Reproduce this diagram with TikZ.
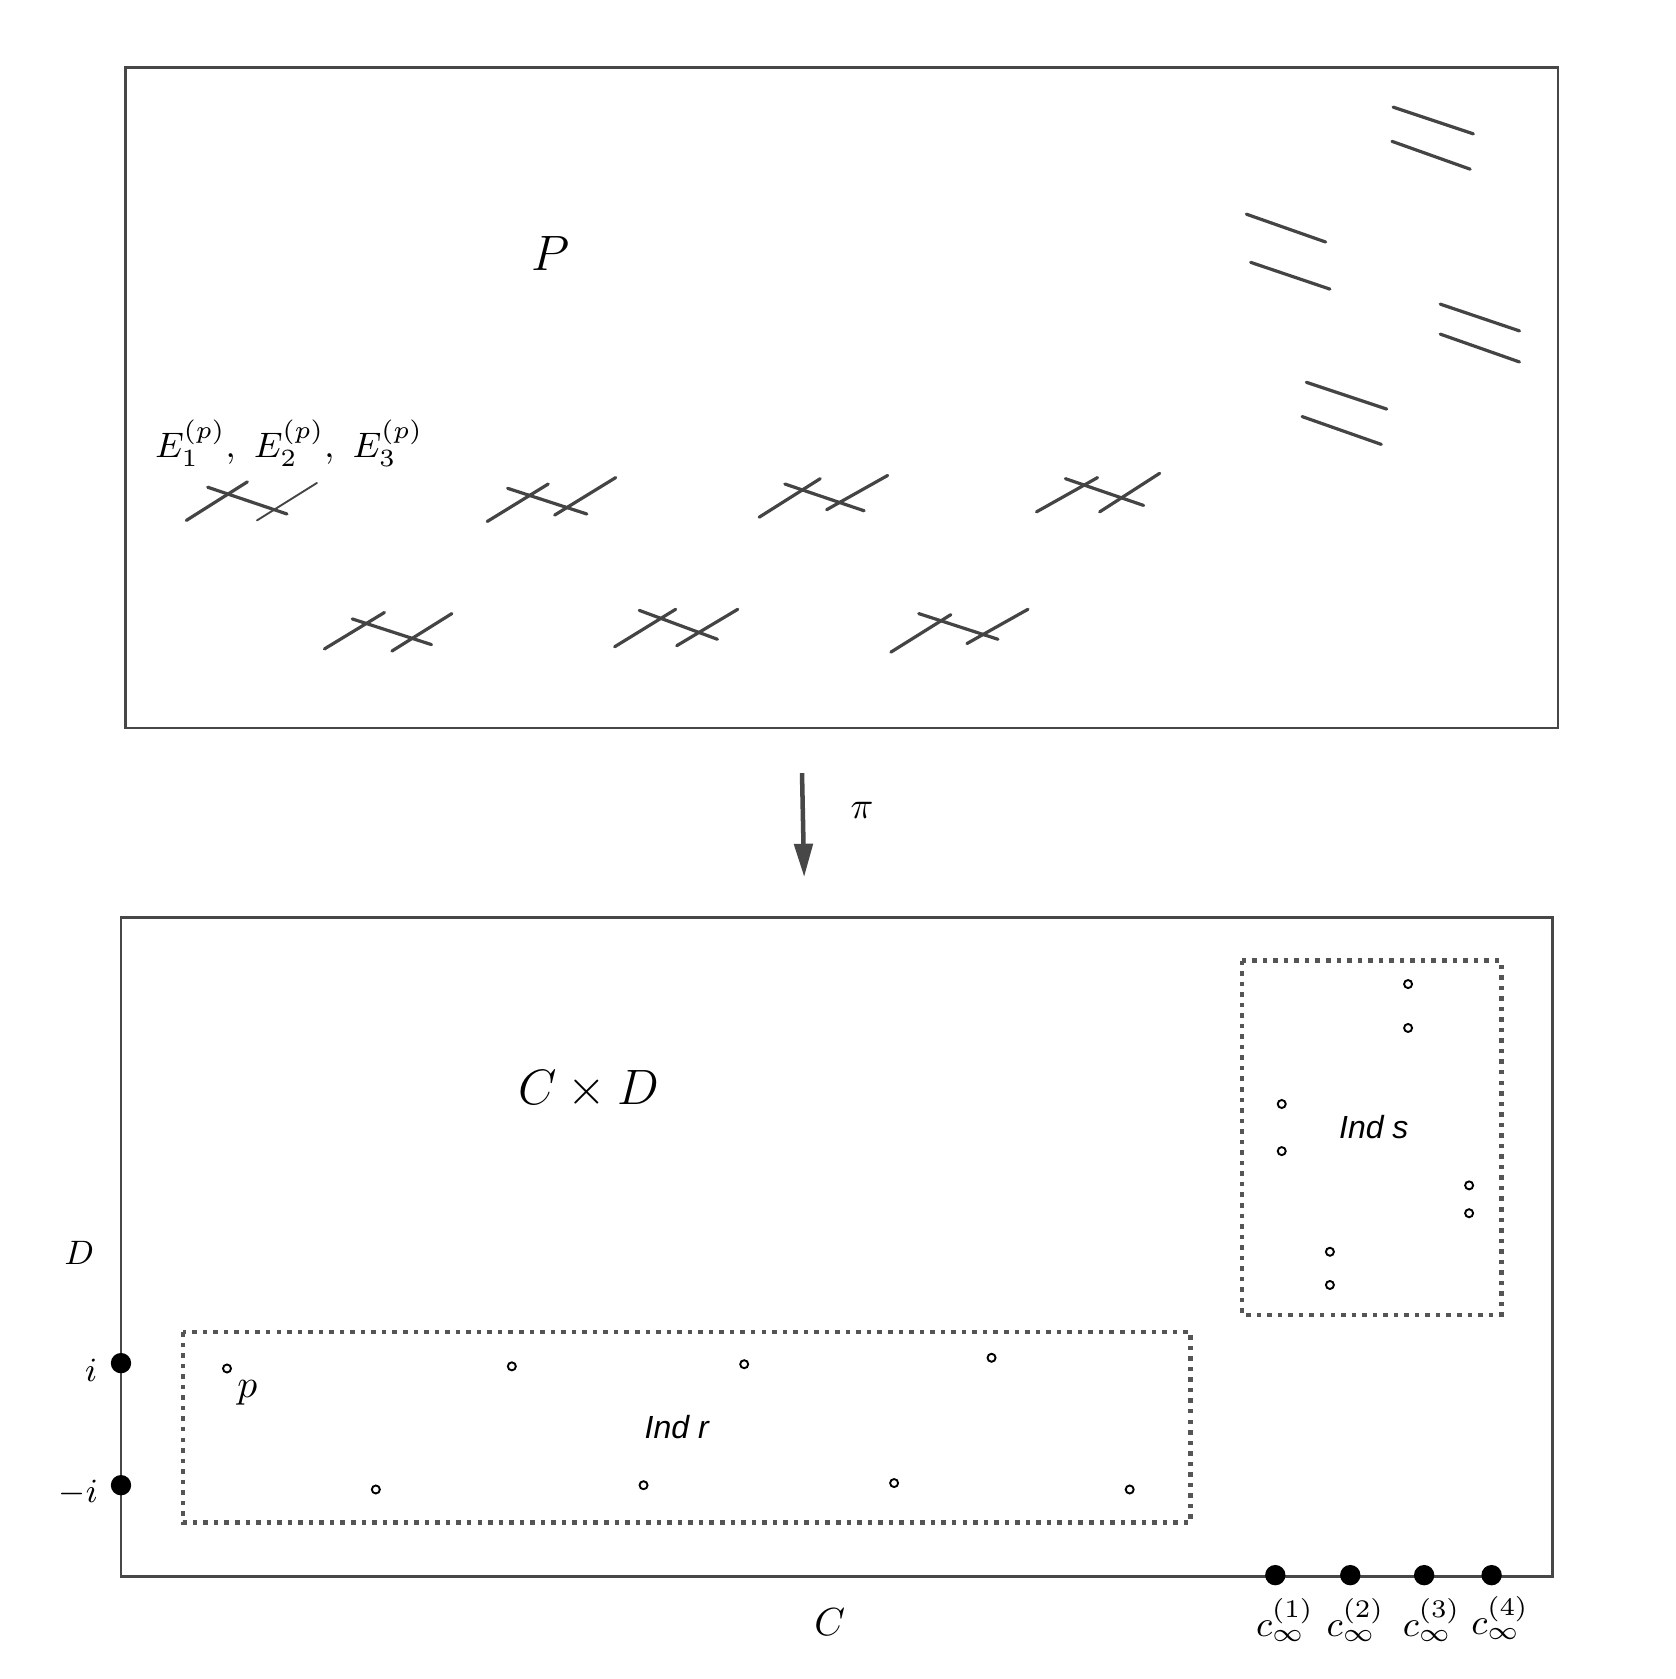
\RequirePackage{fix-cm}
\documentclass[tikz,border=0pt]{standalone}
\usepackage{fontspec}
\usepackage{amsmath}
\usetikzlibrary{arrows.meta}
\newfontfamily\indfont{Liberation Sans}
\definecolor{framegray}{HTML}{474747}
\definecolor{curvegray}{HTML}{444444}
\definecolor{dotgray}{HTML}{555555}
\tikzset{
  frame/.style={draw=framegray, line width=0.7pt},
  curve/.style={draw=curvegray, line width=0.85pt, line cap=round},
  thincurve/.style={draw=curvegray, line width=0.5pt, line cap=round},
  indbox/.style={draw=dotgray, line width=1.2pt, dash pattern=on 1.2pt off 1.6pt},
  smallpt/.style={circle, draw, line width=0.5pt, inner sep=0pt, minimum size=0.075cm},
  bigpt/.style={circle, fill, inner sep=0pt, minimum size=0.19cm},
  lab/.style={inner sep=0pt},
}

\begin{document}
\begin{tikzpicture}[x=0.01cm,y=-0.01cm]
			\useasboundingbox (0,0) rectangle (1565,1568);

			% the surface P
			\draw[frame] (117,63) rectangle (1455,680);
			\node[lab] (P) at (514,237) {\fontsize{13.2}{15}\selectfont $P$};
			\node[lab] (E) at (270,414) {\fontsize{9.4}{11}\selectfont $E_1^{(p)},\ E_2^{(p)},\ E_3^{(p)}$};

			% fibres over the points of Ind r
			\draw[curve] (174,486) -- (231,450);
			\draw[curve] (194,455) -- (268,480);
			\draw[thincurve] (240,486) -- (296,451);

			\draw[curve] (455,487) -- (512,452);
			\draw[curve] (474,456) -- (548,480);
			\draw[curve] (518,481) -- (575,446);

			\draw[curve] (709,483) -- (766,447);
			\draw[curve] (733,452) -- (807,477);
			\draw[curve] (772,476) -- (829,444);

			\draw[curve] (968,478) -- (1025,446);
			\draw[curve] (995,447) -- (1068,472);
			\draw[curve] (1027,478) -- (1083,442);

			\draw[curve] (303,606) -- (359,572);
			\draw[curve] (329,578) -- (403,602);
			\draw[curve] (366,608) -- (422,573);

			\draw[curve] (574,604) -- (631,569);
			\draw[curve] (597,570) -- (670,597);
			\draw[curve] (632,603) -- (689,569);

			\draw[curve] (832,609) -- (888,574);
			\draw[curve] (858,573) -- (932,597);
			\draw[curve] (903,601) -- (960,569);

			% fibres over the points of Ind s
			\draw[curve] (1301,100) -- (1376,125);
			\draw[curve] (1300,132) -- (1373,158);
			\draw[curve] (1164,200) -- (1238,226);
			\draw[curve] (1168,245) -- (1242,270);
			\draw[curve] (1345,284) -- (1419,309);
			\draw[curve] (1345,312) -- (1419,338);
			\draw[curve] (1220,357) -- (1295,382);
			\draw[curve] (1216,389) -- (1290,415);

			% the map
			\coordinate (top) at (749,722);
			\coordinate (bot) at (751,819);
			\draw[draw=framegray, line width=1.2pt, -{Triangle[length=3.1mm,width=1.7mm]}] (top) -- (bot);
			\node[lab] (pi) at (805,757) {\fontsize{10}{12}\selectfont $\pi$};

			% the product C x D
			\draw[frame] (113,857) rectangle (1450,1472);
			\node[lab] (CD) at (550,1018) {\fontsize{13.2}{15}\selectfont $C \times D$};
			\node[lab] (D) at (74,1170) {\fontsize{9}{11}\selectfont $D$};
			\node[lab] (C) at (775,1515) {\fontsize{10.4}{12}\selectfont $C$};

			\node[bigpt] (ip) at (113,1273) {};
			\node[bigpt] (im) at (113,1387) {};
			\node[lab] (ilab) at (85,1280) {\fontsize{9}{11}\selectfont $i$};
			\node[lab] (imlab) at (73,1394) {\fontsize{9}{11}\selectfont $-i$};

			\node[bigpt] (c1) at (1191,1471) {};
			\node[bigpt] (c2) at (1261,1471) {};
			\node[bigpt] (c3) at (1330,1471) {};
			\node[bigpt] (c4) at (1393,1471) {};
			\node[lab] (c1lab) at (1200,1513) {\fontsize{9.6}{11}\selectfont $c_\infty^{(1)}$};
			\node[lab] (c2lab) at (1266,1513) {\fontsize{9.6}{11}\selectfont $c_\infty^{(2)}$};
			\node[lab] (c3lab) at (1337,1513) {\fontsize{9.6}{11}\selectfont $c_\infty^{(3)}$};
			\node[lab] (c4lab) at (1401,1511) {\fontsize{9.6}{11}\selectfont $c_\infty^{(4)}$};

			% Ind r
			\draw[indbox] (171,1244) rectangle (1112,1422);
			\node[lab] (indr) at (632,1333) {\fontsize{8.5}{10}\selectfont\indfont\itshape Ind r};
			\node[smallpt] (r1) at (212,1278) {};
			\node[smallpt] (r2) at (478,1276) {};
			\node[smallpt] (r3) at (695,1274) {};
			\node[smallpt] (r4) at (926,1268) {};
			\node[smallpt] (r5) at (351,1391) {};
			\node[smallpt] (r6) at (601,1387) {};
			\node[smallpt] (r7) at (835,1385) {};
			\node[smallpt] (r8) at (1055,1391) {};
			\node[lab] (p) at (231,1301) {\fontsize{10.5}{12}\selectfont $p$};

			% Ind s
			\draw[indbox] (1160,897) rectangle (1402,1228);
			\node[lab] (inds) at (1283,1053) {\fontsize{8.5}{10}\selectfont\indfont\itshape Ind s};
			\node[smallpt] (s1) at (1315,919) {};
			\node[smallpt] (s2) at (1315,960) {};
			\node[smallpt] (s3) at (1197,1031) {};
			\node[smallpt] (s4) at (1197,1075) {};
			\node[smallpt] (s5) at (1372,1107) {};
			\node[smallpt] (s6) at (1372,1133) {};
			\node[smallpt] (s7) at (1242,1169) {};
			\node[smallpt] (s8) at (1242,1200) {};
		\end{tikzpicture}
\end{document}
